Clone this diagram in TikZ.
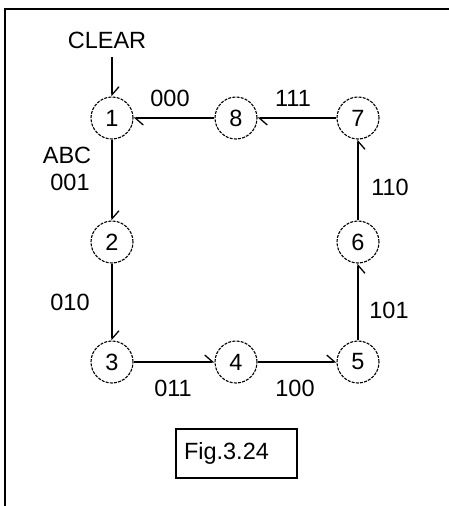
\documentclass[tikz,border=0pt]{standalone}
\usepackage{fontspec}
\setmainfont{Liberation Sans}
\usetikzlibrary{arrows.meta}
\tikzset{
  state/.style={circle,draw,dash pattern=on 3pt off 1.2pt,line width=1.1pt,minimum size=42pt,inner sep=0pt},
  tag/.style={inner sep=0pt},
  barbl/.style={-{Straight Barb[harpoon,length=8pt,width=14pt]}},
  barbr/.style={-{Straight Barb[harpoon,swap,length=8pt,width=14pt]}},
}
\begin{document}
\begin{tikzpicture}[x=1pt,y=-1pt,line width=1.3pt,font=\fontsize{23.5}{28}\selectfont]
        \useasboundingbox (0,0) rectangle (449,506);
        \draw[line width=2pt] (5,506) -- (5,9) -- (449,9);
        \node[state](s1)at(112,118){1};
        \node[state](s8)at(236,118){8};
        \node[state](s7)at(358,118){7};
        \node[state](s2)at(112,242){2};
        \node[state](s6)at(358,242){6};
        \node[state](s3)at(112,362){3};
        \node[state](s4)at(236,362){4};
        \node[state](s5)at(358,362){5};
        \node[tag](clr)at(107,40){CLEAR};
        \coordinate(C)at(112,57);
        \draw[barbl](C)--(s1);
        \draw[barbl](s1)--(s2);
        \draw[barbl](s2)--(s3);
        \draw[barbl](s3)--(s4);
        \draw[barbl](s4)--(s5);
        \draw[barbr](s5)--(s6);
        \draw[barbr](s6)--(s7);
        \draw[barbl](s7)--(s8);
        \draw[barbl](s8)--(s1);
        \node[tag]at(170,98){000};
        \node[tag]at(293,98){111};
        \node[tag]at(67,155){ABC};
        \node[tag]at(70,182){001};
        \node[tag]at(70,302){010};
        \node[tag]at(390,187){110};
        \node[tag]at(389,310){101};
        \node[tag]at(173,388){011};
        \node[tag]at(295,388){100};
        \node[draw,line width=1.5pt,minimum width=121pt,minimum height=49pt,
              inner xsep=8pt,text width=105pt,align=left](fig)at(236.5,453.5){Fig.3.24};
\end{tikzpicture}
\end{document}
